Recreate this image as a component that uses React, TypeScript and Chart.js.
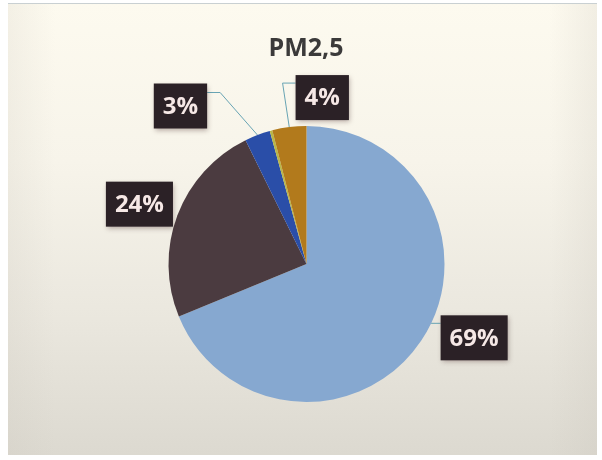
import React, { useEffect, useRef } from "react";
import { Chart, registerables } from "chart.js";

Chart.register(...registerables);

const TITLE = "PM2,5";
const categories = ["Catégorie 1", "Catégorie 2", "Catégorie 3", "Catégorie 4", "Catégorie 5"];
const values = [69, 24, 3, 0.3, 4];
const valueLabels = ["69%", "24%", "3%", "", "4%"];
const sliceColors = ["#86a8d0", "#4b3b40", "#2a4ea8", "#b9b648", "#b27a1c"];

// label box placement relative to each slice's outer mid point (layout only)
const LABEL_LAYOUT: Array<null | { dx: number; dy: number; leader: string; attach: number }> = [
  { dx: 53, dy: -3, leader: "flat", attach: 8 },
  { dx: -38, dy: -11, leader: "none", attach: 0 },
  { dx: -77, dy: -29, leader: "elbow", attach: 9 },
  null,
  { dx: 33, dy: -29.5, leader: "elbow", attach: 8 },
];

const FONT = "'Open Sans', 'DejaVu Sans', sans-serif";

const decorPlugin = {
  id: "decor",
  beforeDraw(chart: any) {
    const ctx = chart.ctx as CanvasRenderingContext2D;
    const W = chart.width;
    const H = chart.height;
    ctx.save();
    ctx.fillStyle = "#ffffff";
    ctx.fillRect(0, 0, W, H);
    const g = ctx.createLinearGradient(0, 3, 0, 455);
    g.addColorStop(0, "#fdfaef");
    g.addColorStop(0.35, "#f7f4ea");
    g.addColorStop(0.7, "#eae7de");
    g.addColorStop(1, "#dcd9d0");
    ctx.fillStyle = g;
    ctx.fillRect(8, 3, 589, 452);
    const gh = ctx.createLinearGradient(8, 0, 597, 0);
    gh.addColorStop(0, "rgba(200,195,185,0.18)");
    gh.addColorStop(0.08, "rgba(200,195,185,0)");
    gh.addColorStop(0.92, "rgba(200,195,185,0)");
    gh.addColorStop(1, "rgba(200,195,185,0.22)");
    ctx.fillStyle = gh;
    ctx.fillRect(8, 3, 589, 452);
    ctx.fillStyle = "#c9d0d2";
    ctx.fillRect(8, 3, 589, 1);
    ctx.restore();
  },
  afterDraw(chart: any) {
    const ctx = chart.ctx as CanvasRenderingContext2D;
    const meta = chart.getDatasetMeta(0);
    ctx.save();
    // title
    ctx.fillStyle = "#3b3a3a";
    ctx.font = `bold 25px ${FONT}`;
    ctx.textAlign = "center";
    ctx.textBaseline = "alphabetic";
    ctx.fillText(TITLE, 306, 56);

    ctx.font = `bold 24px ${FONT}`;
    meta.data.forEach((arc: any, i: number) => {
      const lay = LABEL_LAYOUT[i];
      const text = valueLabels[i];
      if (!lay || !text) return;
      const cx = arc.x;
      const cy = arc.y;
      const r = arc.outerRadius;
      const mid = (arc.startAngle + arc.endAngle) / 2;
      const ax = cx + r * Math.cos(mid);
      const ay = cy + r * Math.sin(mid);
      const tw = ctx.measureText(text).width;
      const bw = tw + 18;
      const bh = 45;
      const bx = ax + lay.dx - bw / 2;
      const by = ay + lay.dy - bh / 2;

      // leader
      ctx.strokeStyle = "#68a4b4";
      ctx.lineWidth = 1;
      if (lay.leader === "elbow") {
        const boxLeftOfAnchor = bx + bw / 2 < ax;
        const sx = boxLeftOfAnchor ? bx + bw : bx;
        const sy = by + lay.attach;
        const ex = boxLeftOfAnchor ? sx + 13 : sx - 13;
        ctx.beginPath();
        ctx.moveTo(sx, sy);
        ctx.lineTo(ex, sy);
        ctx.lineTo(ax, ay);
        ctx.stroke();
      } else if (lay.leader === "flat") {
        const sy = by + lay.attach;
        const dy = sy - cy;
        const px = cx + Math.sqrt(Math.max(r * r - dy * dy, 0));
        ctx.beginPath();
        ctx.moveTo(px, sy);
        ctx.lineTo(bx, sy);
        ctx.stroke();
      }

      // box
      ctx.save();
      ctx.shadowColor = "rgba(60,30,30,0.35)";
      ctx.shadowBlur = 5;
      ctx.shadowOffsetX = 1;
      ctx.shadowOffsetY = 2;
      ctx.fillStyle = "#2b2126";
      ctx.fillRect(bx, by, bw, bh);
      ctx.restore();

      ctx.fillStyle = "#f6e8e6";
      ctx.textAlign = "center";
      ctx.textBaseline = "middle";
      ctx.fillText(text, bx + bw / 2, by + bh / 2 + 1);
    });
    ctx.restore();
  },
};

export default function App() {
  const canvasRef = useRef<HTMLCanvasElement | null>(null);

  useEffect(() => {
    document.body.style.margin = "0";
    const canvas = canvasRef.current;
    if (!canvas) return;
    const chart = new Chart(canvas, {
      type: "pie",
      data: {
        labels: categories,
        datasets: [
          {
            data: values,
            backgroundColor: sliceColors,
            borderWidth: 0,
            hoverOffset: 0,
          },
        ],
      },
      options: {
        responsive: false,
        animation: false,
        events: [],
        layout: { padding: { left: 168.5, right: 157.5, top: 126, bottom: 58 } },
        plugins: {
          legend: { display: false },
          tooltip: { enabled: false },
          title: { display: false },
        },
      },
      plugins: [decorPlugin],
    });
    return () => chart.destroy();
  }, []);

  return (
    <div style={{ width: 602, height: 460 }}>
      <canvas ref={canvasRef} width={602} height={460} style={{ display: "block" }} />
    </div>
  );
}
